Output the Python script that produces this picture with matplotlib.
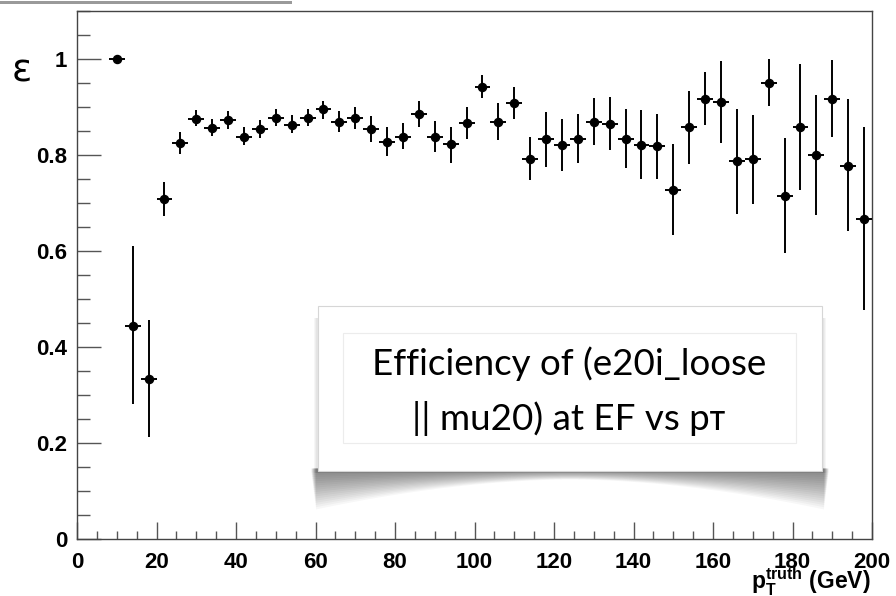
import numpy as np
import matplotlib
matplotlib.use("Agg")
import matplotlib.pyplot as plt
from matplotlib.patches import Rectangle, Polygon
from matplotlib.ticker import MultipleLocator

# efficiency vs pT truth, bins of 4 GeV
pt = [10, 14, 18, 22, 26, 30, 34, 38, 42, 46, 50, 54, 58, 62, 66, 70,
      74, 78, 82, 86, 90, 94, 98, 102, 106, 110, 114, 118, 122, 126, 130, 134,
      138, 142, 146, 150, 154, 158, 162, 166, 170, 174, 178, 182, 186, 190, 194, 198]
eff = [1.000, 0.444, 0.333, 0.708, 0.826, 0.876, 0.857, 0.873, 0.838, 0.854, 0.878, 0.863,
       0.878, 0.895, 0.869, 0.877, 0.854, 0.827, 0.838, 0.886, 0.838, 0.822, 0.866, 0.942,
       0.869, 0.908, 0.792, 0.833, 0.820, 0.833, 0.869, 0.865, 0.833, 0.821, 0.819, 0.727,
       0.858, 0.917, 0.910, 0.787, 0.791, 0.949, 0.715, 0.858, 0.800, 0.917, 0.777, 0.666]
err_up = [0.002, 0.166, 0.123, 0.036, 0.022, 0.018, 0.017, 0.019, 0.020, 0.019, 0.017, 0.020,
          0.018, 0.018, 0.023, 0.022, 0.027, 0.031, 0.029, 0.027, 0.033, 0.036, 0.034, 0.025,
          0.039, 0.034, 0.046, 0.057, 0.055, 0.052, 0.050, 0.056, 0.063, 0.073, 0.067, 0.096,
          0.076, 0.055, 0.085, 0.109, 0.092, 0.050, 0.120, 0.132, 0.126, 0.080, 0.140, 0.193]
err_dn = [0.002, 0.163, 0.120, 0.035, 0.023, 0.016, 0.017, 0.018, 0.017, 0.019, 0.017, 0.018,
          0.017, 0.019, 0.022, 0.022, 0.026, 0.030, 0.026, 0.028, 0.032, 0.038, 0.033, 0.024,
          0.038, 0.032, 0.044, 0.057, 0.053, 0.049, 0.049, 0.055, 0.061, 0.072, 0.068, 0.094,
          0.076, 0.055, 0.086, 0.110, 0.093, 0.046, 0.120, 0.131, 0.125, 0.079, 0.136, 0.189]
half_bin = 2
y_ticks = [0, 0.2, 0.4, 0.6, 0.8, 1.0]
y_labels = ["0", "0.2", "0.4", "0.6", "0.8", "1"]

plt.rcParams["font.family"] = ["Liberation Sans", "DejaVu Sans"]
plt.rcParams["mathtext.fontset"] = "custom"
plt.rcParams["mathtext.rm"] = "Liberation Sans"
plt.rcParams["mathtext.bf"] = "Liberation Sans:bold"

W, H = 896, 596
fig = plt.figure(figsize=(W / 100, H / 100), dpi=100)
ax = fig.add_axes([77 / W, 1 - 539 / H, 795 / W, 528 / H])

ax.errorbar(pt, eff, xerr=half_bin, yerr=[err_dn, err_up], fmt="o", color="black",
            ms=5.8, elinewidth=1.4, capsize=0, zorder=3)

ax.set_xlim(0, 200)
ax.set_ylim(0, 1.1)
ax.xaxis.set_major_locator(MultipleLocator(20))
ax.xaxis.set_minor_locator(MultipleLocator(5))
ax.yaxis.set_minor_locator(MultipleLocator(0.05))
ax.set_yticks(y_ticks)
ax.set_yticklabels(y_labels)
ax.tick_params(axis="both", which="both", direction="in", top=False, right=False,
               color="#555555", labelsize=16)
ax.tick_params(axis="y", which="major", length=17, width=1, pad=7)
ax.tick_params(axis="y", which="minor", length=9, width=1)
ax.tick_params(axis="x", which="major", length=12, width=1, pad=9)
ax.tick_params(axis="x", which="minor", length=6, width=1)
for lab in ax.get_xticklabels() + ax.get_yticklabels():
    lab.set_fontweight("bold")
for s in ax.spines.values():
    s.set_linewidth(1.0)
    s.set_color("#444444")

# axis titles
fig.text(22 / W, 1 - 71 / H, "ε", fontsize=27, ha="center", va="center",
         family="DejaVu Sans")
fig.text(871 / W, 1 - 589 / H, r"$\mathbf{p_{T}^{truth}}$ (GeV)", fontsize=16.5,
         fontweight="bold", ha="right", va="baseline")

# grey bar at the top left
fig.add_artist(Rectangle((0, 1 - 3.5 / H), 292 / W, 2.5 / H, transform=fig.transFigure,
                         facecolor="#9a9a9a", edgecolor="none"))

# curled shadow under the text box
tf = fig.transFigure
bx0, bx1, by_top, by_bot = 318, 822, 306, 470.5
n = 18
for k in range(n):
    f = (k + 1) / n
    xs = np.linspace(bx0 - 7 + 5 * f, bx1 + 7 - 5 * f, 160)
    t = (xs - xs[0]) / (xs[-1] - xs[0])
    depth = (9 + 30 * np.abs(2 * t - 1) ** 1.8) * f
    pts = [(x / W, 1 - (by_bot - 2) / H) for x in xs]
    pts += [(x / W, 1 - (by_bot + d) / H) for x, d in zip(xs[::-1], depth[::-1])]
    fig.add_artist(Polygon(pts, closed=True, transform=tf, facecolor="black",
                           edgecolor="none", alpha=0.03))
# soft side shadow
for k in range(3):
    fig.add_artist(Rectangle(((bx0 - 2 - k) / W, 1 - (by_bot + 2) / H),
                             (bx1 - bx0 + 4 + 2 * k) / W, (by_bot - by_top - 10) / H,
                             transform=tf, facecolor="black", edgecolor="none", alpha=0.035))
fig.add_artist(Rectangle((bx0 / W, 1 - by_bot / H), (bx1 - bx0) / W, (by_bot - by_top) / H,
                         transform=tf, facecolor="white", edgecolor="#d6d6d6", lw=0.8))
fig.add_artist(Rectangle((343 / W, 1 - 443 / H), 453 / W, 110 / H, transform=tf,
                         facecolor="white", edgecolor="#ececec", lw=0.8))

title_font = ["Lato", "DejaVu Sans"]
fig.text(569 / W, 1 - 375 / H, "Efficiency of (e20i_loose", fontsize=26.5,
         family=title_font, ha="center", va="baseline")
fig.text(569 / W, 1 - 430 / H, "|| mu20) at EF vs pᴛ", fontsize=26.5,
         family=title_font, ha="center", va="baseline")

fig.savefig("out.png", dpi=100)
